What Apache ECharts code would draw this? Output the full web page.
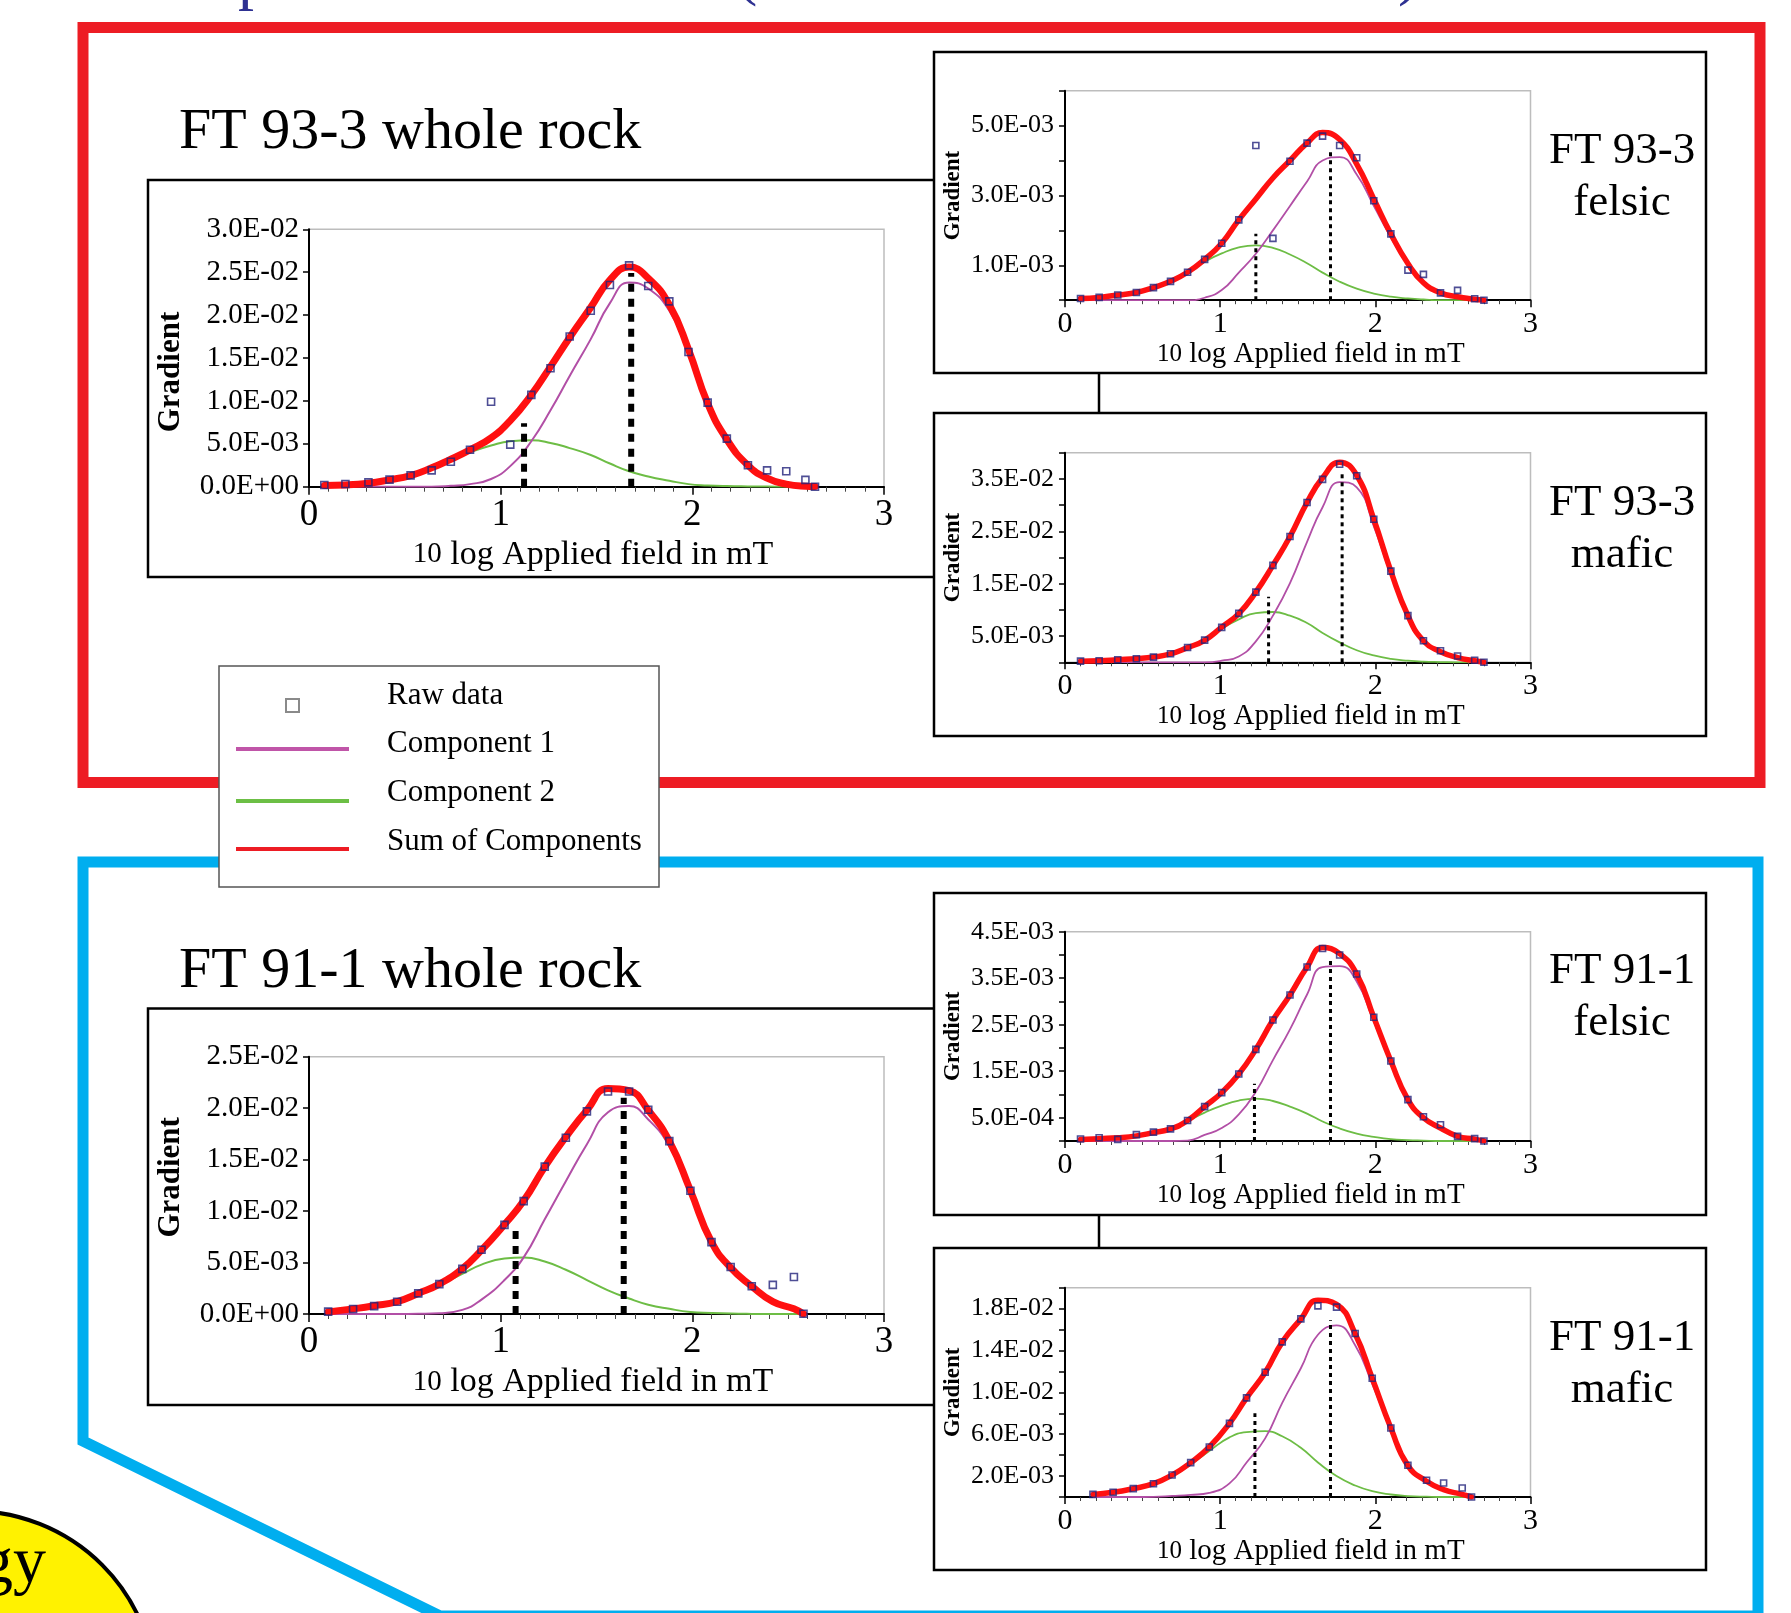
<!DOCTYPE html>
<html><head><meta charset="utf-8">
<script src="https://cdn.jsdelivr.net/npm/echarts@6/dist/echarts.min.js"></script>
<style>html,body{margin:0;padding:0;background:#fff;overflow:hidden}#c{width:1791px;height:1613px}</style>
</head><body><div id="c"></div>
<script>
// ---------- DATA ----------
// FT 93-3 whole rock
const xsA = [0.08,0.19,0.31,0.42,0.53,0.64,0.74,0.84,0.95,1.05,1.16,1.26,1.36,1.47,1.57,1.67,1.77,1.88,1.98,2.08,2.18,2.29,2.39,2.49,2.59,2.64];
const rawA = [0.00019,0.00031,0.00050,0.00082,0.00132,0.0019,0.0029,0.0043,0.0099,0.0049,0.0107,0.0138,0.0175,0.0205,0.0235,0.0258,0.0234,0.0216,0.0157,0.0098,0.0056,0.0025,0.0019,0.0018,0.0008,0.0];
const comp1A = [0,0,0,0,0,0,0.0001,0.0003,0.0009,0.0024,0.0053,0.0089,0.0129,0.0172,0.0214,0.0238,0.0231,0.0205,0.0157,0.0096,0.0054,0.0025,0.0010,0.0003,0.00005,0.00002];
const comp2A = [0.00015,0.0002,0.0004,0.0008,0.0013,0.0022,0.0031,0.0040,0.0048,0.0053,0.0054,0.0051,0.0045,0.0037,0.0027,0.0018,0.0012,0.0007,0.0003,0.00015,0.00007,0.00003,0.00001,0,0,0];
const sumA = [0.00015,0.0002,0.0004,0.0008,0.0013,0.0022,0.0032,0.0043,0.0057,0.0077,0.0107,0.0140,0.0174,0.0209,0.0241,0.0256,0.0243,0.0212,0.0160,0.0097,0.0055,0.0025,0.0010,0.0003,0.00005,0.00002];
const peaksA = [[1.122,0.0074],[1.681,0.0249]];

// FT 93-3 felsic
const xsB = [0.10,0.22,0.34,0.46,0.57,0.68,0.79,0.90,1.01,1.12,1.23,1.34,1.45,1.56,1.66,1.77,1.88,1.99,2.10,2.21,2.31,2.42,2.53,2.64,2.70];
const rawB = [0.00005,0.00008,0.00015,0.00022,0.00036,0.00054,0.0008,0.00117,0.00163,0.0023,0.00443,0.00177,0.00398,0.0045,0.0047,0.00443,0.00408,0.00285,0.0019,0.00086,0.00074,0.00021,0.00028,0.00004,0];
const comp1B = [0,0,0,0,0,0,0,0.00007,0.00029,0.00079,0.00133,0.0020,0.0027,0.0034,0.0040,0.0041,0.0036,0.0027,0.0018,0.0010,0.00048,0.0002,0.0001,0.00003,0];
const comp2B = [0.00004,0.00007,0.00013,0.00021,0.00035,0.00054,0.0008,0.0011,0.00134,0.00151,0.00157,0.0015,0.00131,0.00106,0.00079,0.00053,0.00033,0.00019,0.0001,0.00005,0.00002,0,0,0,0];
const sumB = [0.00005,0.00008,0.00015,0.00022,0.00036,0.00054,0.0008,0.00117,0.00163,0.0023,0.0029,0.0035,0.0040,0.0045,0.0048,0.0046,0.0039,0.0029,0.0019,0.00105,0.0005,0.00021,0.0001,0.00003,0];
const peaksB = [[1.23,0.0019],[1.711,0.0043]];

// FT 93-3 mafic
const xsC = [0.10,0.22,0.34,0.46,0.57,0.68,0.79,0.90,1.01,1.12,1.23,1.34,1.45,1.56,1.66,1.77,1.88,1.99,2.10,2.21,2.31,2.42,2.53,2.64,2.70];
const rawC = [0.00022,0.00029,0.00048,0.00067,0.00099,0.00162,0.00283,0.00424,0.00666,0.00933,0.0134,0.0185,0.0240,0.0305,0.0349,0.0378,0.0356,0.0273,0.0174,0.0089,0.0041,0.0022,0.0012,0.0004,0];
const comp1C = [0,0,0,0,0,0,0,0,0.0003,0.0011,0.0040,0.0089,0.0151,0.0230,0.0296,0.0344,0.0334,0.0260,0.0167,0.0086,0.0040,0.0020,0.0009,0.0003,0];
const comp2C = [0.0002,0.0003,0.0005,0.0007,0.001,0.0016,0.0028,0.0042,0.0064,0.0082,0.0094,0.0096,0.0089,0.0075,0.0056,0.0038,0.0023,0.0013,0.00065,0.0003,0.00012,0.00005,0,0,0];
const sumC = [0.0002,0.0003,0.0005,0.0007,0.001,0.0016,0.0028,0.0042,0.0067,0.0093,0.0134,0.0185,0.0240,0.0305,0.0352,0.0382,0.0357,0.0273,0.0174,0.0089,0.0041,0.0020,0.0009,0.0003,0];
const peaksC = [[1.312,0.0125],[1.786,0.0364]];

// FT 91-1 whole rock
const xsD = [0.10,0.23,0.34,0.46,0.57,0.68,0.80,0.90,1.02,1.12,1.23,1.34,1.45,1.56,1.67,1.77,1.88,1.99,2.10,2.20,2.31,2.42,2.53,2.58];
const rawD = [0.00023,0.00048,0.00077,0.00119,0.0020,0.0029,0.00438,0.00624,0.00866,0.01097,0.01432,0.01712,0.01969,0.02162,0.02162,0.01985,0.0168,0.01197,0.00698,0.00457,0.0027,0.00283,0.0036,0.00003];
const comp1D = [0,0,0,0,0.00002,0.00008,0.0004,0.0014,0.0033,0.0055,0.0092,0.0129,0.0165,0.0196,0.0202,0.0189,0.0163,0.0118,0.0069,0.0045,0.0027,0.0012,0.0005,0.0];
const comp2D = [0.0002,0.0004,0.0007,0.0012,0.0019,0.0028,0.0039,0.0048,0.0054,0.0055,0.0051,0.0043,0.0033,0.0023,0.0015,0.0009,0.0005,0.0002,0.0001,0.00004,0.00001,0,0,0];
const sumD = [0.0002,0.0005,0.0008,0.0012,0.0020,0.0029,0.0044,0.0062,0.0087,0.0110,0.0143,0.0172,0.0198,0.0219,0.0217,0.0198,0.0168,0.0120,0.0070,0.0045,0.0027,0.0012,0.0005,0.0000];
const peaksD = [[1.078,0.0084],[1.642,0.0210]];

// FT 91-1 felsic
const xsE = [0.10,0.22,0.34,0.46,0.57,0.68,0.79,0.90,1.01,1.12,1.23,1.34,1.45,1.56,1.66,1.77,1.88,1.99,2.10,2.21,2.31,2.42,2.53,2.64,2.70];
const rawE = [0.000043,0.00007,0.000036,0.000136,0.00019,0.00026,0.00044,0.00074,0.00104,0.00144,0.00197,0.0026,0.00314,0.00374,0.00414,0.0040,0.00359,0.00266,0.00172,0.00089,0.00052,0.00035,0.0001,0.00005,0];
const comp1E = [0,0,0,0,0,0,0.00001,0.00013,0.00028,0.00057,0.00106,0.00174,0.0024,0.00315,0.00374,0.00376,0.00343,0.00257,0.00168,0.00087,0.00049,0.00028,0.0001,0.00004,0];
const comp2E = [0.00003,0.00005,0.00007,0.0001,0.00017,0.00027,0.00043,0.00061,0.00076,0.00087,0.00091,0.00086,0.00074,0.00059,0.00042,0.00027,0.00016,0.00009,0.00004,0.00002,0.00001,0,0,0,0];
const sumE = [0.00003,0.00005,0.00007,0.00011,0.00018,0.00026,0.00044,0.00074,0.00104,0.00144,0.00197,0.0026,0.00314,0.00374,0.00416,0.00403,0.00359,0.00266,0.00172,0.00089,0.0005,0.00028,0.0001,0.00004,0];
const peaksE = [[1.221,0.00123],[1.711,0.0039]];

// FT 91-1 mafic
const xsF = [0.18,0.31,0.44,0.57,0.69,0.81,0.93,1.06,1.17,1.29,1.40,1.52,1.63,1.75,1.87,1.98,2.10,2.21,2.33,2.44,2.56,2.62];
const rawF = [0.00025,0.00045,0.0008,0.00127,0.0021,0.00328,0.00478,0.00704,0.00947,0.01192,0.01482,0.01702,0.01826,0.01814,0.01562,0.01135,0.0066,0.00303,0.0016,0.00134,0.00086,0];
const comp1F = [0,0,0,0.00002,0.0001,0.0002,0.0004,0.0013,0.0033,0.0056,0.0090,0.0123,0.0155,0.0164,0.0145,0.0108,0.0064,0.0029,0.0015,0.0007,0.00025,0];
const comp2F = [0.00025,0.00045,0.0008,0.00125,0.0020,0.0031,0.0044,0.0057,0.0062,0.0063,0.0058,0.0047,0.0033,0.0020,0.0011,0.00055,0.00024,0.00009,0.00003,0,0,0];
const sumF = [0.00025,0.00045,0.0008,0.00127,0.0021,0.00328,0.00478,0.00704,0.00947,0.0119,0.0148,0.0170,0.0188,0.0184,0.0156,0.01135,0.0066,0.0030,0.0015,0.0007,0.00025,0];
const peaksF = [[1.224,0.0080],[1.711,0.0169]];

// axes / texts
const xTicks = ['0','1','2','3'];
const xAxisTitle = '{s|10} log Applied field in mT';
const yAxisTitle = 'Gradient';
const legendNames = ['Raw data','Component 1','Component 2','Sum of Components'];
const titleA = 'FT 93-3 whole rock';
const titleD = 'FT 91-1 whole rock';
const sideLabels = [['FT 93-3','felsic'],['FT 93-3','mafic'],['FT 91-1','felsic'],['FT 91-1','mafic']];

// ---------- LAYOUT ----------
const FONT = '"Liberation Serif", "Times New Roman", serif';
const COL = {raw:'#22227a', c1:'#b24fa6', c2:'#6dbd45', sum:'#ff1010'};
function fmtE(v){
  if (Math.abs(v) < 1e-12) return '0.0E+00';
  const s = v.toExponential(1).split('e');
  const n = parseInt(s[1],10);
  const a = Math.abs(n);
  return s[0] + 'E' + (n < 0 ? '-' : '+') + (a < 10 ? '0' : '') + a;
}
const charts = [
  {grid:{left:309,top:229.3,width:575,height:257.4}, yMax:0.03, yStep:0.005, big:true, all:true, xs:xsA, raw:rawA, c1:comp1A, c2:comp2A, sum:sumA, peaks:peaksA, gpad:[0,28,0,0]},
  {grid:{left:1065,top:90.7,width:465.5,height:209.5}, yMax:0.006, yStep:0.001, big:false, all:false, xs:xsB, raw:rawB, c1:comp1B, c2:comp2B, sum:sumB, peaks:peaksB},
  {grid:{left:1065,top:452.7,width:465.5,height:209.6}, yMax:0.04, yStep:0.005, big:false, all:false, xs:xsC, raw:rawC, c1:comp1C, c2:comp2C, sum:sumC, peaks:peaksC},
  {grid:{left:309,top:1056.7,width:575,height:257.3}, yMax:0.025, yStep:0.005, big:true, all:true, xs:xsD, raw:rawD, c1:comp1D, c2:comp2D, sum:sumD, peaks:peaksD, gpad:[0,0,0,16]},
  {grid:{left:1065,top:931.7,width:465.5,height:209.3}, yMax:0.0045, yStep:0.0005, big:false, all:false, xs:xsE, raw:rawE, c1:comp1E, c2:comp2E, sum:sumE, peaks:peaksE},
  {grid:{left:1065,top:1287.7,width:465.5,height:209.3}, yMax:0.02, yStep:0.002, big:false, all:false, xs:xsF, raw:rawF, c1:comp1F, c2:comp2F, sum:sumF, peaks:peaksF}
];
const zip = (xs, ys) => xs.map((x,i) => [x, ys[i]]);

const grids = [], xAxes = [], yAxes = [], series = [];
charts.forEach((c, i) => {
  const B = c.big;
  grids.push(Object.assign({show:true, borderColor:'#bdbdbd', borderWidth:1.5, backgroundColor:'#fff'}, c.grid));
  xAxes.push({
    gridIndex:i, type:'value', min:0, max:3, interval:1,
    axisLine:{show:true, onZero:false, lineStyle:{color:'#000', width:2}},
    axisTick:{show:true, length:B?8:7, lineStyle:{color:'#000', width:1.5}},
    minorTick:{show:true, splitNumber:10, length:B?5:4, lineStyle:{color:'#444', width:1}},
    splitLine:{show:false},
    axisLabel:{fontFamily:FONT, fontSize:B?37:30, color:'#000', margin:B?10:9, formatter:v => xTicks[Math.round(v)]},
    name:xAxisTitle, nameLocation:'middle', nameGap:B?51:33,
    nameTextStyle:{fontFamily:FONT, fontSize:B?34:29, color:'#000', padding:B?[0,7,0,0]:[0,0,0,26],
      rich:{s:{fontFamily:FONT, fontSize:B?29:25, color:'#000'}}}
  });
  yAxes.push({
    gridIndex:i, type:'value', min:0, max:c.yMax, interval:c.yStep,
    axisLine:{show:true, onZero:false, lineStyle:{color:'#000', width:2}},
    axisTick:{show:true, length:6, lineStyle:{color:'#000', width:1.5}},
    splitLine:{show:false},
    axisLabel:{fontFamily:FONT, fontSize:B?29:26, color:'#000', margin:B?10:11,
      showMaxLabel:true, showMinLabel:true,
      formatter:v => { if (c.all) return fmtE(v); const k = Math.round(v/c.yStep); return (k % 2 === 1) ? fmtE(v) : ''; }},
    name:yAxisTitle, nameLocation:'middle', nameRotate:90, nameGap:B?123:100,
    nameTextStyle:{fontFamily:FONT, fontSize:B?31:23, fontWeight:'bold', color:'#000', padding:c.gpad||[0,0,0,0]}
  });
  const base = {xAxisIndex:i, yAxisIndex:i, symbol:'none', silent:true, animation:false};
  series.push(Object.assign({type:'line', name:legendNames[2], data:zip(c.xs,c.c2), smooth:0.5, lineStyle:{color:COL.c2, width:B?2:1.8}, z:2}, base));
  series.push(Object.assign({type:'line', name:legendNames[1], data:zip(c.xs,c.c1), smooth:0.5, lineStyle:{color:COL.c1, width:B?2:1.8}, z:3}, base));
  series.push(Object.assign({type:'line', name:legendNames[3], data:zip(c.xs,c.sum), smooth:0.5, lineStyle:{color:COL.sum, width:B?7:5.5, cap:'round'}, z:4}, base));
  c.peaks.forEach(p => {
    series.push(Object.assign({type:'line', data:[[p[0],0],[p[0],p[1]]], lineStyle:{color:'#000', width:B?6:3, type:B?[8,7]:[4,4]}, z:5}, base));
  });
  series.push({type:'scatter', name:legendNames[0], xAxisIndex:i, yAxisIndex:i, data:zip(c.xs,c.raw), symbol:'rect', symbolSize:B?7:6,
    itemStyle:{color:'rgba(0,0,0,0)', borderColor:COL.raw, borderWidth:1.6}, z:6, silent:true, animation:false});
});

// ---------- DECORATION ----------
const graphic = [];
// top title fragments (cut off at top edge)
graphic.push({type:'text', left:238, top:-52, style:{text:'p', font:'64px '+FONT, fill:'#2e3192'}});
graphic.push({type:'text', left:736, top:-56, style:{text:'(', font:'64px '+FONT, fill:'#2e3192'}});
graphic.push({type:'text', left:1398, top:-56, style:{text:')', font:'64px '+FONT, fill:'#2e3192'}});
// red and blue frames
graphic.push({type:'rect', shape:{x:83, y:27.5, width:1677, height:755}, style:{fill:'none', stroke:'#ed1c24', lineWidth:11}});
graphic.push({type:'polygon', shape:{points:[[83,862],[1758,862],[1758,1616],[440,1616],[83,1441]]}, style:{fill:'none', stroke:'#00aeef', lineWidth:11, lineJoin:'miter'}});
// yellow badge
graphic.push({type:'circle', shape:{cx:-28, cy:1695, r:184}, style:{fill:'#fff200', stroke:'#000', lineWidth:4}});
graphic.push({type:'text', x:46, y:1598, style:{text:'Geology', font:'66px '+FONT, fill:'#000', textAlign:'right', textVerticalAlign:'bottom'}});
// chart boxes
const bx = {stroke:'#000', lineWidth:2.5, fill:'none'};
graphic.push({type:'polyline', shape:{points:[[934,180],[148,180],[148,577],[934,577]]}, style:bx});
graphic.push({type:'polyline', shape:{points:[[934,1008.5],[148,1008.5],[148,1405],[934,1405]]}, style:bx});
[[52,373],[413,736],[893,1215],[1248,1570]].forEach(b => {
  graphic.push({type:'rect', shape:{x:934, y:b[0], width:772, height:b[1]-b[0]}, style:bx});
});
graphic.push({type:'line', shape:{x1:1099, y1:373, x2:1099, y2:413}, style:{stroke:'#000', lineWidth:2.5}});
graphic.push({type:'line', shape:{x1:1099, y1:1215, x2:1099, y2:1248}, style:{stroke:'#000', lineWidth:2.5}});
// titles
graphic.push({type:'text', x:179, y:133, style:{text:titleA, font:'58px '+FONT, fill:'#000', textVerticalAlign:'middle'}});
graphic.push({type:'text', x:179, y:972, style:{text:titleD, font:'58px '+FONT, fill:'#000', textVerticalAlign:'middle'}});
const sideBase = [166, 518, 986, 1353];
sideLabels.forEach((s, i) => {
  graphic.push({type:'text', x:1622, y:sideBase[i]-15, style:{text:s[0], font:'45px '+FONT, fill:'#000', textAlign:'center', textVerticalAlign:'middle'}});
  graphic.push({type:'text', x:1622, y:sideBase[i]+52-15, style:{text:s[1], font:'45px '+FONT, fill:'#000', textAlign:'center', textVerticalAlign:'middle'}});
});
// legend
graphic.push({type:'rect', shape:{x:219, y:666, width:440, height:221}, style:{fill:'#fff', stroke:'#555', lineWidth:1.5}});
graphic.push({type:'rect', shape:{x:286, y:699, width:13, height:13}, style:{fill:'none', stroke:'#8a8a8a', lineWidth:2}});
const legY = [696, 744, 793, 842];
const legLineY = [null, 749, 801, 849];
const legCol = [null, '#c055a8', '#6cbf45', '#ed1c24'];
legendNames.forEach((n, i) => {
  if (i > 0) graphic.push({type:'line', shape:{x1:236, y1:legLineY[i], x2:349, y2:legLineY[i]}, style:{stroke:legCol[i], lineWidth:4}});
  graphic.push({type:'text', x:387, y:legY[i], style:{text:n, font:'31px '+FONT, fill:'#000', textVerticalAlign:'middle'}});
});

const chart = echarts.init(document.getElementById('c'), null, {renderer:'canvas'});
chart.setOption({
  animation:false, backgroundColor:'#fff',
  grid:grids, xAxis:xAxes, yAxis:yAxes, series:series, graphic:graphic
});
</script></body></html>
